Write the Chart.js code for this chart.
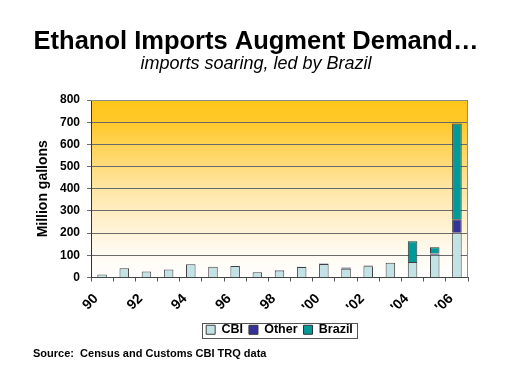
<!DOCTYPE html>
<html>
<head>
<meta charset="utf-8">
<script src="https://cdn.jsdelivr.net/npm/chart.js@4/dist/chart.umd.min.js"></script>
<style>
	html, body { margin: 0; padding: 0; background: #ffffff; }
	#wrap { width: 512px; height: 384px; position: relative; }
</style>
</head>
<body>
<div id="wrap"><canvas id="ethanol_chart" width="512" height="384"></canvas></div>
<script>
// years on the category axis, and the labels shown under them
var years = ["1990","1991","1992","1993","1994","1995","1996","1997","1998",
	"1999","2000","2001","2002","2003","2004","2005","2006"];
var tickLabels = ["90","","92","","94","","96","","98","","'00","","'02","","'04","","'06"];

// million gallons
var cbi    = [13, 42, 27, 36, 60, 49, 52, 24, 31, 47, 61, 39, 51, 67, 70, 103, 202];
var other  = [0, 0, 0, 0, 0, 0, 0, 0, 3, 2, 2, 6, 3, 0, 0, 5, 60];
var brazil = [0, 0, 0, 0, 0, 0, 0, 0, 0, 0, 0, 0, 0, 0, 93, 28, 432];

var yTicks = [0, 100, 200, 300, 400, 500, 600, 700, 800];

var FONT = "Arial, 'Liberation Sans', sans-serif";

// orange-to-white fill behind the bars, plus the plot frame
var plotBackground = {
	id: "plotBackground",
	beforeDraw: function(chart){
		var a = chart.chartArea;
		var ctx = chart.ctx;
		var g = ctx.createLinearGradient(0, a.top, 0, a.bottom);
		g.addColorStop(0, "#ffc61a");
		g.addColorStop(0.12, "#ffc828");
		g.addColorStop(0.5, "#ffe6a6");
		g.addColorStop(0.85, "#fffaf0");
		g.addColorStop(1, "#ffffff");
		ctx.save();
		ctx.fillStyle = g;
		ctx.fillRect(a.left, a.top, a.right - a.left, a.bottom - a.top);
		ctx.restore();
	},
	afterDraw: function(chart){
		var a = chart.chartArea;
		var ctx = chart.ctx;
		ctx.save();
		ctx.strokeStyle = "#8c8c8c";
		ctx.lineWidth = 1;
		ctx.beginPath();
		ctx.moveTo(a.left, a.top + 0.5);
		ctx.lineTo(a.right - 0.5, a.top + 0.5);
		ctx.lineTo(a.right - 0.5, a.bottom);
		ctx.stroke();

		// frame around the legend items
		var boxes = chart.legend.legendHitBoxes;
		if(boxes && boxes.length){
			var l = boxes[0].left - 4;
			var last = boxes[boxes.length - 1];
			var r = last.left + last.width + 4;
			var t = boxes[0].top - 1;
			var b = boxes[0].top + boxes[0].height + 1;
			ctx.strokeStyle = "#555555";
			ctx.strokeRect(Math.round(l) + 0.5, Math.round(t) + 0.5, Math.round(r - l), Math.round(b - t));
		}

		ctx.fillStyle = "#000000";
		ctx.font = "bold 11px " + FONT;
		ctx.textBaseline = "alphabetic";
		ctx.textAlign = "left";
		ctx.fillText("Source:  Census and Customs CBI TRQ data", 33, 357);
		ctx.restore();
	}
};

var ctx = document.getElementById("ethanol_chart");
var chart = new Chart(ctx, {
	type: "bar",
	data: {
		labels: years,
		datasets: [{
			label: "CBI",
			data: cbi,
			backgroundColor: "#c2e2e6",
			borderColor: "#404040",
			borderWidth: 1
		},{
			label: "Other",
			data: other,
			backgroundColor: "#333399",
			borderColor: "#303030",
			borderWidth: 1
		},{
			label: "Brazil",
			data: brazil,
			backgroundColor: "#009a9a",
			borderColor: "#303030",
			borderWidth: 1
		}]
	},
	options: {
		responsive: false,
		animation: false,
		devicePixelRatio: 1,
		barPercentage: 0.43,
		categoryPercentage: 1,
		layout: {
			padding: {left: 30, right: 30, top: 0, bottom: 38}
		},
		plugins: {
			title: {
				display: true,
				text: "Ethanol Imports Augment Demand\u2026",
				color: "#000000",
				font: {family: FONT, size: 25.5, weight: "bold", lineHeight: 1.0},
				padding: {top: 29, bottom: 0}
			},
			subtitle: {
				display: true,
				text: "imports soaring, led by Brazil",
				color: "#000000",
				font: {family: FONT, size: 18, style: "italic", lineHeight: 1.1},
				padding: {top: 0, bottom: 25.7}
			},
			legend: {
				position: "bottom",
				fullSize: false,
				labels: {
					color: "#000000",
					font: {family: FONT, size: 12.5, weight: "bold"},
					boxWidth: 9,
					boxHeight: 9,
					padding: 6
				}
			},
			tooltip: {enabled: false}
		},
		scales: {
			x: {
				stacked: true,
				afterFit: function(scale){ scale.height = 40; },
				grid: {
					drawOnChartArea: false,
					color: "#555555",
					tickLength: 4,
					offset: true
				},
				border: {color: "#444444", width: 1},
				ticks: {
					autoSkip: false,
					minRotation: 45,
					maxRotation: 45,
					padding: 9,
					labelOffset: -6,
					color: "#000000",
					font: {family: FONT, size: 14, weight: "bold"},
					callback: function(value, index){ return tickLabels[index]; }
				}
			},
			y: {
				stacked: true,
				min: 0,
				max: 800,
				afterFit: function(scale){ scale.width = 61; },
				afterBuildTicks: function(scale){
					scale.ticks = yTicks.map(function(v){ return {value: v}; });
				},
				grid: {
					color: "#6a6a6a",
					lineWidth: 1,
					tickLength: 4
				},
				border: {color: "#333333", width: 1},
				ticks: {
					color: "#000000",
					padding: 7,
					font: {family: FONT, size: 12, weight: "bold"}
				},
				title: {
					display: true,
					text: "Million gallons",
					color: "#000000",
					font: {family: FONT, size: 14, weight: "bold"},
					padding: {top: 5, bottom: 0}
				}
			},
			// empty right-hand axis: only keeps the plot's right margin
			yRight: {
				position: "right",
				display: true,
				afterFit: function(scale){ scale.width = 14; },
				grid: {display: false},
				border: {display: false},
				ticks: {display: false}
			}
		}
	},
	plugins: [plotBackground]
});
</script>
</body>
</html>
